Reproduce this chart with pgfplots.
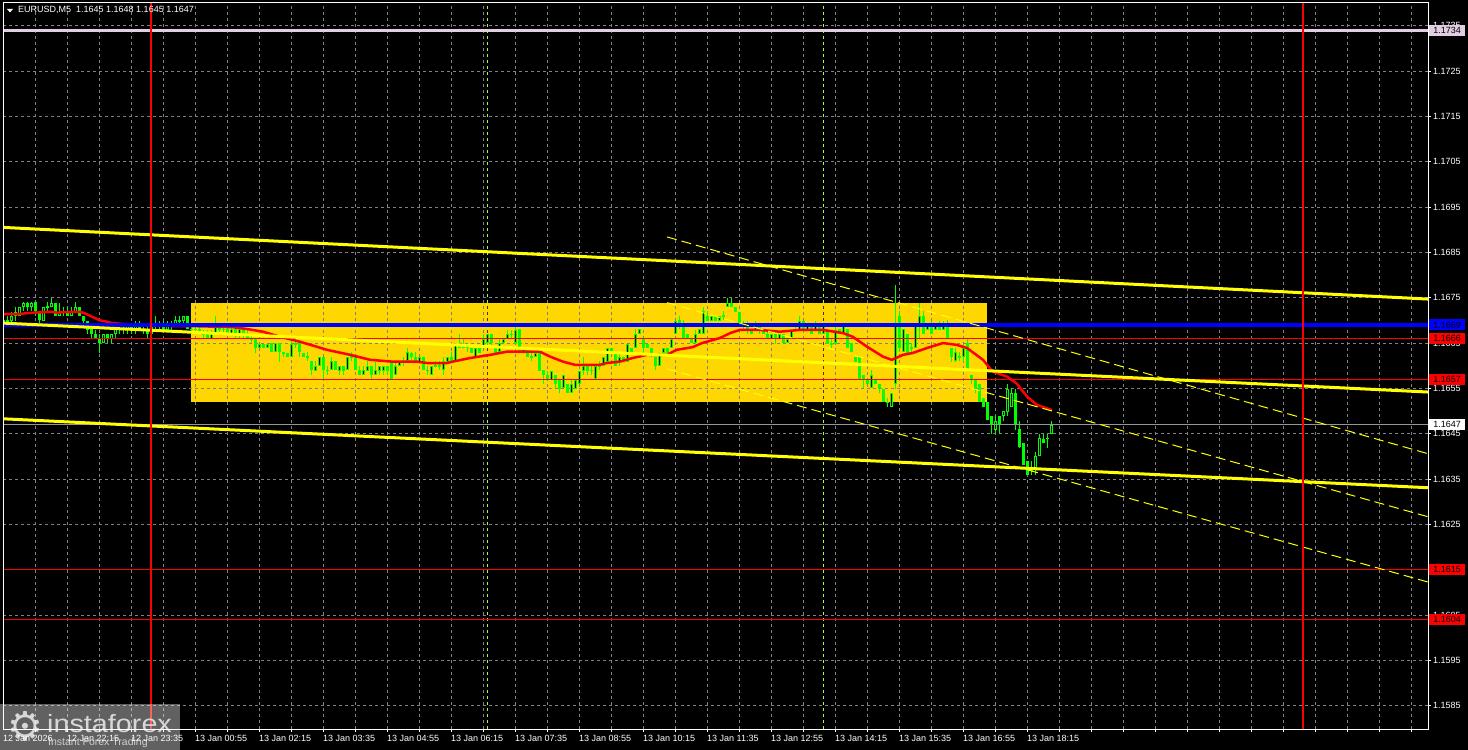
\documentclass[border=0pt]{standalone}
\usepackage{pgfplots}
\pgfplotsset{compat=1.18}
\usepackage{pgfplotstable}
\usepackage{fontspec}
\setmainfont{Liberation Sans}
\newfontfamily\djv{DejaVu Sans}
\definecolor{gridc}{RGB}{128,128,136}
\definecolor{gold}{RGB}{255,215,0}
\definecolor{lav}{RGB}{226,206,226}
\definecolor{bidc}{RGB}{150,150,150}
\definecolor{sess}{RGB}{173,255,47}
\definecolor{limec}{RGB}{0,255,0}
\definecolor{mtred}{RGB}{255,0,0}
\definecolor{mtblue}{RGB}{0,0,255}
\definecolor{mtyel}{RGB}{255,255,0}
\newcommand\lab{\fontsize{9}{10}\selectfont}

\pgfplotstableread{
t o h l c
-185 1.1669 1.1670 1.1668 1.1670
-180 1.1670 1.1671 1.1669 1.1670
-175 1.1670 1.1672 1.1669 1.1671
-170 1.1671 1.1673 1.1670 1.1672
-165 1.1671 1.1673 1.1671 1.1673
-160 1.1673 1.1674 1.1672 1.1674
-155 1.1674 1.1674 1.1672 1.1673
-150 1.1673 1.1674 1.1672 1.1674
-145 1.1674 1.1674 1.1671 1.1672
-140 1.1672 1.1672 1.1669 1.1670
-135 1.1670 1.1673 1.1670 1.1673
-130 1.1673 1.1674 1.1672 1.1673
-125 1.1673 1.1675 1.1673 1.1674
-120 1.1674 1.1674 1.1671 1.1671
-115 1.1671 1.1674 1.1671 1.1672
-110 1.1672 1.1673 1.1671 1.1672
-105 1.1672 1.1673 1.1671 1.1671
-100 1.1671 1.1673 1.1671 1.1672
-95 1.1672 1.1674 1.1672 1.1673
-90 1.1673 1.1673 1.1671 1.1671
-85 1.1671 1.1671 1.1669 1.1670
-80 1.1670 1.1670 1.1667 1.1668
-75 1.1668 1.1668 1.1666 1.1667
-70 1.1667 1.1668 1.1666 1.1666
-65 1.1666 1.1667 1.1663 1.1665
-60 1.1665 1.1667 1.1665 1.1667
-55 1.1667 1.1667 1.1665 1.1666
-50 1.1666 1.1667 1.1665 1.1667
-45 1.1667 1.1669 1.1666 1.1668
-40 1.1668 1.1669 1.1667 1.1668
-35 1.1668 1.1669 1.1667 1.1668
-30 1.1668 1.1669 1.1667 1.1669
-25 1.1669 1.1669 1.1667 1.1668
-20 1.1668 1.1670 1.1667 1.1669
-15 1.1669 1.1670 1.1668 1.1668
-10 1.1668 1.1669 1.1667 1.1668
-5 1.1668 1.1669 1.1666 1.1667
0 1.1667 1.1669 1.1667 1.1669
5 1.1669 1.1671 1.1668 1.1669
10 1.1669 1.1670 1.1668 1.1669
15 1.1669 1.1670 1.1668 1.1668
20 1.1668 1.1670 1.1668 1.1669
25 1.1669 1.1670 1.1668 1.1669
30 1.1669 1.1671 1.1669 1.1670
35 1.1670 1.1671 1.1669 1.1670
40 1.1670 1.1671 1.1669 1.1671
45 1.1671 1.1671 1.1668 1.1668
50 1.1668 1.1669 1.1667 1.1668
55 1.1668 1.1669 1.1667 1.1668
60 1.1668 1.1669 1.1667 1.1667
65 1.1667 1.1668 1.1666 1.1667
70 1.1667 1.1668 1.1666 1.1666
75 1.1666 1.1668 1.1666 1.1667
80 1.1667 1.1671 1.1667 1.1669
85 1.1669 1.1669 1.1667 1.1668
90 1.1668 1.1669 1.1667 1.1668
95 1.1668 1.1669 1.1667 1.1667
100 1.1667 1.1669 1.1667 1.1668
105 1.1668 1.1669 1.1666 1.1667
110 1.1667 1.1668 1.1666 1.1668
115 1.1668 1.1668 1.1666 1.1667
120 1.1667 1.1668 1.1666 1.1666
125 1.1666 1.1667 1.1665 1.1666
130 1.1666 1.1666 1.1663 1.1664
135 1.1664 1.1665 1.1664 1.1665
140 1.1665 1.1665 1.1664 1.1664
145 1.1664 1.1665 1.1664 1.1665
150 1.1665 1.1665 1.1663 1.1663
155 1.1663 1.1665 1.1663 1.1665
160 1.1665 1.1665 1.1661 1.1663
165 1.1663 1.1663 1.1662 1.1663
170 1.1663 1.1663 1.1662 1.1662
175 1.1662 1.1666 1.1662 1.1665
180 1.1665 1.1666 1.1664 1.1665
185 1.1665 1.1665 1.1662 1.1663
190 1.1663 1.1663 1.1662 1.1662
195 1.1662 1.1663 1.1661 1.1662
200 1.1661 1.1661 1.1658 1.1659
205 1.1659 1.1661 1.1659 1.1660
210 1.1660 1.1662 1.1660 1.1662
215 1.1662 1.1662 1.1657 1.1659
220 1.1659 1.1660 1.1658 1.1659
225 1.1659 1.1662 1.1659 1.1661
230 1.1661 1.1661 1.1659 1.1659
235 1.1659 1.1660 1.1658 1.1660
240 1.1660 1.1660 1.1658 1.1659
245 1.1659 1.1662 1.1659 1.1662
250 1.1662 1.1663 1.1661 1.1662
255 1.1662 1.1662 1.1659 1.1659
260 1.1659 1.1660 1.1658 1.1658
265 1.1658 1.1660 1.1658 1.1659
270 1.1659 1.1661 1.1659 1.1660
275 1.1660 1.1660 1.1657 1.1658
280 1.1658 1.1661 1.1658 1.1659
285 1.1659 1.1660 1.1658 1.1660
290 1.1659 1.1660 1.1658 1.1660
295 1.1660 1.1660 1.1658 1.1659
300 1.1661 1.1661 1.1657 1.1657
305 1.1658 1.1661 1.1658 1.1660
310 1.1660 1.1661 1.1660 1.1661
315 1.1661 1.1662 1.1660 1.1661
320 1.1661 1.1664 1.1661 1.1663
325 1.1663 1.1663 1.1661 1.1662
330 1.1662 1.1663 1.1661 1.1661
335 1.1661 1.1662 1.1661 1.1662
340 1.1662 1.1662 1.1659 1.1659
345 1.1659 1.1660 1.1658 1.1659
350 1.1658 1.1660 1.1658 1.1660
355 1.1660 1.1661 1.1660 1.1660
360 1.1660 1.1661 1.1659 1.1660
365 1.1659 1.1662 1.1658 1.1661
370 1.1661 1.1662 1.1661 1.1662
375 1.1662 1.1663 1.1661 1.1661
380 1.1661 1.1665 1.1661 1.1665
385 1.1665 1.1667 1.1664 1.1664
390 1.1664 1.1666 1.1664 1.1665
395 1.1665 1.1665 1.1663 1.1664
400 1.1664 1.1664 1.1663 1.1663
405 1.1662 1.1664 1.1662 1.1664
410 1.1664 1.1664 1.1663 1.1663
415 1.1664 1.1667 1.1664 1.1666
420 1.1665 1.1667 1.1664 1.1667
425 1.1667 1.1667 1.1664 1.1665
430 1.1664 1.1664 1.1663 1.1663
435 1.1663 1.1666 1.1663 1.1665
440 1.1665 1.1666 1.1665 1.1666
445 1.1666 1.1668 1.1666 1.1667
450 1.1667 1.1668 1.1666 1.1667
455 1.1665 1.1669 1.1665 1.1668
460 1.1668 1.1668 1.1663 1.1663
465 1.1663 1.1664 1.1663 1.1664
470 1.1664 1.1664 1.1662 1.1662
475 1.1662 1.1663 1.1661 1.1662
480 1.1662 1.1663 1.1662 1.1663
485 1.1663 1.1663 1.1659 1.1659
490 1.1659 1.1659 1.1656 1.1658
495 1.1658 1.1659 1.1657 1.1657
500 1.1657 1.1659 1.1657 1.1659
505 1.1658 1.1658 1.1655 1.1656
510 1.1657 1.1657 1.1654 1.1655
515 1.1655 1.1658 1.1655 1.1658
520 1.1656 1.1656 1.1654 1.1654
525 1.1654 1.1657 1.1654 1.1656
530 1.1655 1.1657 1.1655 1.1657
535 1.1656 1.1659 1.1656 1.1659
540 1.1659 1.1662 1.1658 1.1660
545 1.1660 1.1660 1.1658 1.1659
550 1.1659 1.1660 1.1658 1.1659
555 1.1657 1.1660 1.1657 1.1660
560 1.1660 1.1661 1.1659 1.1660
565 1.1660 1.1662 1.1660 1.1662
570 1.1661 1.1664 1.1661 1.1664
575 1.1664 1.1664 1.1663 1.1663
580 1.1663 1.1663 1.1660 1.1660
585 1.1661 1.1663 1.1660 1.1662
590 1.1662 1.1662 1.1661 1.1661
595 1.1661 1.1665 1.1661 1.1665
600 1.1664 1.1664 1.1663 1.1663
605 1.1664 1.1668 1.1664 1.1667
610 1.1667 1.1668 1.1667 1.1668
615 1.1666 1.1666 1.1663 1.1664
620 1.1665 1.1665 1.1664 1.1664
625 1.1664 1.1664 1.1662 1.1663
630 1.1662 1.1662 1.1659 1.1660
635 1.1660 1.1663 1.1660 1.1663
640 1.1663 1.1664 1.1663 1.1664
645 1.1664 1.1664 1.1663 1.1663
650 1.1664 1.1666 1.1664 1.1666
655 1.1667 1.1670 1.1667 1.1670
660 1.1670 1.1671 1.1668 1.1669
665 1.1669 1.1670 1.1666 1.1666
670 1.1667 1.1667 1.1666 1.1666
675 1.1666 1.1666 1.1665 1.1665
680 1.1665 1.1668 1.1665 1.1667
685 1.1667 1.1668 1.1667 1.1668
690 1.1667 1.1673 1.1667 1.1672
695 1.1671 1.1672 1.1670 1.1670
700 1.1670 1.1671 1.1670 1.1671
705 1.1671 1.1671 1.1670 1.1670
710 1.1670 1.1671 1.1670 1.1671
715 1.1671 1.1672 1.1670 1.1671
720 1.1673 1.1675 1.1673 1.1674
725 1.1674 1.1675 1.1673 1.1673
730 1.1673 1.1673 1.1672 1.1672
735 1.1672 1.1672 1.1669 1.1669
740 1.1669 1.1670 1.1668 1.1669
745 1.1669 1.1670 1.1667 1.1668
750 1.1668 1.1668 1.1667 1.1667
755 1.1668 1.1670 1.1668 1.1669
760 1.1669 1.1669 1.1667 1.1668
765 1.1668 1.1668 1.1667 1.1667
770 1.1667 1.1668 1.1666 1.1666
775 1.1666 1.1667 1.1666 1.1667
780 1.1667 1.1668 1.1665 1.1666
785 1.1666 1.1667 1.1666 1.1667
790 1.1667 1.1667 1.1665 1.1665
795 1.1665 1.1666 1.1665 1.1666
800 1.1666 1.1668 1.1666 1.1668
805 1.1668 1.1669 1.1668 1.1668
810 1.1668 1.1671 1.1668 1.1670
815 1.1670 1.1670 1.1668 1.1668
820 1.1668 1.1669 1.1668 1.1669
825 1.1669 1.1669 1.1667 1.1667
830 1.1668 1.1670 1.1668 1.1669
835 1.1669 1.1669 1.1667 1.1667
840 1.1667 1.1669 1.1667 1.1669
845 1.1668 1.1668 1.1665 1.1665
850 1.1665 1.1666 1.1664 1.1665
855 1.1665 1.1669 1.1665 1.1668
860 1.1668 1.1668 1.1667 1.1667
865 1.1667 1.1669 1.1667 1.1669
870 1.1668 1.1668 1.1664 1.1664
875 1.1665 1.1665 1.1663 1.1663
880 1.1662 1.1662 1.1661 1.1661
885 1.1662 1.1662 1.1657 1.1657
890 1.1658 1.1658 1.1655 1.1657
895 1.1657 1.1657 1.1656 1.1656
900 1.1655 1.1659 1.1655 1.1658
905 1.1657 1.1657 1.1656 1.1656
910 1.1656 1.1656 1.1654 1.1655
915 1.1655 1.1655 1.1652 1.1652
920 1.1652 1.1653 1.1651 1.1652
925 1.1651 1.1654 1.1651 1.1654
930 1.1656 1.1678 1.1655 1.1669
935 1.1671 1.1672 1.1663 1.1664
940 1.1663 1.1668 1.1663 1.1668
945 1.1667 1.1667 1.1663 1.1663
950 1.1664 1.1665 1.1663 1.1664
955 1.1664 1.1669 1.1664 1.1669
960 1.1669 1.1674 1.1666 1.1671
965 1.1671 1.1672 1.1667 1.1667
970 1.1668 1.1669 1.1668 1.1669
975 1.1669 1.1670 1.1667 1.1667
980 1.1668 1.1669 1.1668 1.1669
985 1.1669 1.1670 1.1668 1.1668
990 1.1668 1.1670 1.1668 1.1669
995 1.1669 1.1670 1.1666 1.1666
1000 1.1664 1.1664 1.1661 1.1662
1005 1.1661 1.1664 1.1661 1.1663
1010 1.1662 1.1663 1.1661 1.1662
1015 1.1662 1.1665 1.1661 1.1664
1020 1.1665 1.1666 1.1659 1.1659
1025 1.1658 1.1658 1.1656 1.1657
1030 1.1657 1.1657 1.1654 1.1655
1035 1.1656 1.1656 1.1652 1.1652
1040 1.1653 1.1653 1.1651 1.1651
1045 1.1652 1.1652 1.1648 1.1648
1050 1.1649 1.1649 1.1645 1.1647
1055 1.1646 1.1649 1.1645 1.1648
1060 1.1649 1.1649 1.1645 1.1647
1065 1.1649 1.1650 1.1648 1.1650
1070 1.1650 1.1656 1.1649 1.1655
1075 1.1651 1.1655 1.1651 1.1654
1080 1.1654 1.1655 1.1646 1.1647
1085 1.1646 1.1648 1.1642 1.1642
1090 1.1643 1.1643 1.1638 1.1638
1095 1.1639 1.1639 1.1636 1.1636
1100 1.1637 1.1639 1.1636 1.1637
1105 1.1637 1.1641 1.1636 1.1640
1110 1.1640 1.1645 1.1640 1.1644
1115 1.1644 1.1645 1.1643 1.1643
1120 1.1644 1.1645 1.1642 1.1644
1125 1.1645 1.1648 1.1645 1.1647
}\candles

\begin{document}
\begin{tikzpicture}[x=1pt,y=1pt]
\fill[black] (0,0) rectangle (1468,750);
\begin{axis}[
  at={(3pt,21pt)}, anchor=south west, scale only axis,
  width=1425pt, height=727pt,
  xmin=-185, xmax=1596.25, ymin=1.15799, ymax=1.17402,
  axis on top,
  axis line style={white, line width=0.9pt},
  tick style={white, line width=0.8pt},
  major tick length=3pt, tick align=outside,
  xtick pos=left, ytick pos=right, yticklabel pos=right,
  xtick={-145,-105,...,1575},
  xticklabels={,12 Jan 22:15,,12 Jan 23:35,,13 Jan 00:55,,13 Jan 02:15,,13 Jan 03:35,,13 Jan 04:55,,13 Jan 06:15,,13 Jan 07:35,,13 Jan 08:55,,13 Jan 10:15,,13 Jan 11:35,,13 Jan 12:55,,13 Jan 14:15,,13 Jan 15:35,,13 Jan 16:55,,13 Jan 18:15},
  ytick={1.1585,1.1595,1.1605,1.1615,1.1625,1.1635,1.1645,1.1655,1.1665,1.1675,1.1685,1.1695,1.1705,1.1715,1.1725,1.1735},
  yticklabels={1.1585,1.1595,1.1605,1.1615,1.1625,1.1635,1.1645,1.1655,1.1665,1.1675,1.1685,1.1695,1.1705,1.1715,1.1725,1.1735},
  xticklabel style={font=\lab, text=white, anchor=west, inner sep=0pt, yshift=-6pt},
  yticklabel style={font=\lab, text=white, anchor=west, inner sep=0pt, xshift=2pt},
]
% yellow rectangle (background object)
\addplot[fill=gold, draw=none, forget plot] coordinates {(50,1.16739) (1045,1.16739) (1045,1.16520) (50,1.16520)} -- cycle;
% grid
\pgfplotsinvokeforeach{-145,-105,...,1575}{\draw[gridc, dash pattern=on 3pt off 3pt, line width=0.8pt] (axis cs:#1,1.15799) -- (axis cs:#1,1.17402);}
\pgfplotsinvokeforeach{1.1585,1.1595,1.1605,1.1615,1.1625,1.1635,1.1645,1.1655,1.1665,1.1675,1.1685,1.1695,1.1705,1.1715,1.1725,1.1735}{\draw[gridc, dash pattern=on 3pt off 3pt, line width=0.8pt] (axis cs:-185,#1) -- (axis cs:1596.25,#1);}
% session separators
\addplot[sess, dash pattern=on 3pt off 3pt, line width=0.9pt, blend mode=difference, forget plot] coordinates {(420,1.15799) (420,1.17402)};
\addplot[sess, dash pattern=on 3pt off 3pt, line width=0.9pt, blend mode=difference, forget plot] coordinates {(840,1.15799) (840,1.17402)};
% candles: wicks
\addplot[draw=none, mark=none, forget plot, error bars/.cd, y dir=both, y explicit, error mark=none, error bar style={draw=limec, line width=1pt, solid}]
  table[x=t, y expr={(\thisrow{h}+\thisrow{l})/2}, y error expr={(\thisrow{h}-\thisrow{l})/2}] {\candles};
% candles: bodies
\addplot[draw=none, mark=none, forget plot, error bars/.cd, y dir=both, y explicit, error mark=none, error bar style={draw=limec, line width=3pt, solid}]
  table[x=t, y expr={(\thisrow{o}+\thisrow{c})/2}, y error expr={max(abs(\thisrow{c}-\thisrow{o})/2,0.000012)}] {\candles};
% candles: hollow interior of bull candles
\addplot[draw=none, mark=none, forget plot, error bars/.cd, y dir=both, y explicit, error mark=none, error bar style={draw=black, line width=1pt, solid}]
  table[x=t, y expr={(\thisrow{o}+\thisrow{c})/2}, y error expr={(\thisrow{c}>\thisrow{o})*max(abs(\thisrow{c}-\thisrow{o})/2-0.000022,0)}] {\candles};
% moving average
\addplot[mtred, line width=2.5pt, forget plot] coordinates {
(-185,1.16714) (-164,1.16714) (-155,1.16716) (-126,1.16719) (-117,1.16717) (-110,1.16718) (-89,1.16719)
(-82,1.16715) (-76,1.16710) (-70,1.16705) (-64,1.16700) (-55,1.16697) (-49,1.16694) (-35,1.16692)
(-1,1.16688) (61,1.16687) (102,1.16685) (120,1.16681) (140,1.16675) (161,1.16664) (186,1.16653)
(207,1.16642) (220,1.16635) (249,1.16624) (274,1.16613) (302,1.16609) (332,1.16609) (345,1.16606)
(370,1.16606) (377,1.16609) (399,1.16617) (424,1.16624) (445,1.16631) (461,1.16631) (486,1.16631)
(499,1.16620) (515,1.16609) (530,1.16602) (561,1.16602) (570,1.16606) (586,1.16609) (602,1.16617)
(620,1.16624) (645,1.16624) (657,1.16635) (677,1.16641) (689,1.16650) (711,1.16661) (724,1.16672)
(736,1.16679) (761,1.16679) (786,1.16675) (811,1.16679) (840,1.16679) (865,1.16672) (877,1.16664)
(895,1.16642) (915,1.16620) (926,1.16613) (940,1.16624) (952,1.16628) (970,1.16639) (990,1.16650)
(1007,1.16646) (1020,1.16639) (1040,1.16613) (1052,1.16587) (1070,1.16576) (1082,1.16561)
(1095,1.16532) (1107,1.16514) (1120,1.16506) (1126,1.16502)};
% horizontal levels
\addplot[mtblue, line width=3.5pt, forget plot] coordinates {(-185,1.1669) (1596.25,1.1669)};
\addplot[mtred, line width=1pt, forget plot] coordinates {(-185,1.1666) (1596.25,1.1666)};
\addplot[mtred, line width=1pt, forget plot] coordinates {(-185,1.1657) (1596.25,1.1657)};
\addplot[mtred, line width=1pt, forget plot] coordinates {(-185,1.1615) (1596.25,1.1615)};
\addplot[mtred, line width=1pt, forget plot] coordinates {(-185,1.1604) (1596.25,1.1604)};
\addplot[bidc, line width=1pt, forget plot] coordinates {(-185,1.1647) (1596.25,1.1647)};
\addplot[lav, line width=3pt, forget plot] coordinates {(-185,1.1734) (1596.25,1.1734)};
% trend channel
\addplot[mtyel, line width=3pt, forget plot] coordinates {(-185,1.16905) (1596.25,1.16747)};
\addplot[mtyel, line width=3pt, forget plot] coordinates {(-185,1.16694) (1596.25,1.16542)};
\addplot[mtyel, line width=3pt, forget plot] coordinates {(-185,1.16483) (1596.25,1.16331)};
% dashed regression channel
\addplot[mtyel, line width=1pt, dash pattern=on 10pt off 5pt, forget plot] coordinates {(645,1.16884) (1596.25,1.16406)};
\addplot[mtyel, line width=1pt, dash pattern=on 10pt off 5pt, forget plot] coordinates {(645,1.16739) (1596.25,1.16267)};
\addplot[mtyel, line width=1pt, dash pattern=on 10pt off 5pt, forget plot] coordinates {(645,1.16593) (1596.25,1.16123)};
% day separators
\addplot[mtred, line width=2.5pt, forget plot] coordinates {(0,1.15799) (0,1.17402)};
\addplot[mtred, line width=2.5pt, forget plot] coordinates {(1440,1.15799) (1440,1.17402)};
% anchors for price tags
\coordinate (r1734) at (axis cs:1596.25,1.1734);
\coordinate (r1669) at (axis cs:1596.25,1.1669);
\coordinate (r1666) at (axis cs:1596.25,1.1666);
\coordinate (r1657) at (axis cs:1596.25,1.1657);
\coordinate (r1647) at (axis cs:1596.25,1.1647);
\coordinate (r1615) at (axis cs:1596.25,1.1615);
\coordinate (r1604) at (axis cs:1596.25,1.1604);
\end{axis}
% price tags
\tikzset{tag/.style={font=\lab, text=black, minimum width=36pt, minimum height=11pt, inner sep=0pt, anchor=west}}
\node[tag, fill=lav] at ([xshift=1pt]r1734) {1.1734};
\node[tag, fill=mtblue] at ([xshift=1pt]r1669) {1.1669};
\node[tag, fill=mtred] at ([xshift=1pt]r1666) {1.1666};
\node[tag, fill=mtred] at ([xshift=1pt]r1657) {1.1657};
\node[tag, fill=white] at ([xshift=1pt]r1647) {1.1647};
\node[tag, fill=mtred] at ([xshift=1pt]r1615) {1.1615};
\node[tag, fill=mtred] at ([xshift=1pt]r1604) {1.1604};
% title
\fill[white] (7,741) -- (13,741) -- (10,737.5) -- cycle;
\node[anchor=west, inner sep=0pt, text=white, font=\lab] at (18,740) {EURUSD,M5\ \ 1.1645 1.1648 1.1645 1.1647};
% first date label
\node[anchor=west, inner sep=0pt, text=white, font=\lab] at (3,12) {12 Jan 2026};
% logo
\fill[white, opacity=0.38] (0,0) rectangle (180,46);
\node[text=white, opacity=0.75, font=\djv\fontsize{40}{40}\selectfont, inner sep=0pt] at (25,24) {⚙};
\node[text=white, opacity=0.75, font=\fontsize{25}{25}\selectfont, anchor=base west, inner sep=0pt, xscale=1.15] at (47,17) {instaforex};
\node[text=white, opacity=0.7, font=\fontsize{10.5}{10.5}\selectfont, anchor=base west, inner sep=0pt] at (48,5) {Instant Forex Trading};
\end{tikzpicture}
\end{document}
